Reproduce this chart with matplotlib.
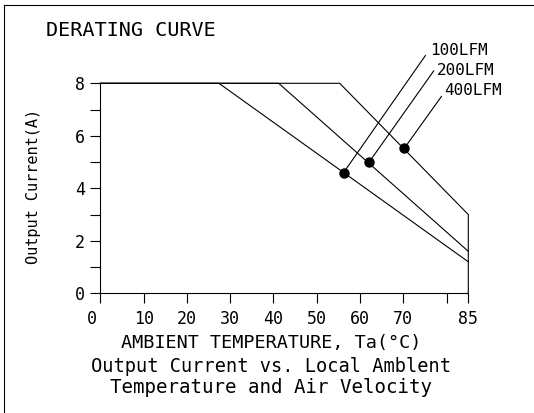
import matplotlib
matplotlib.use('Agg')
import matplotlib.pyplot as plt
from matplotlib.lines import Line2D
from matplotlib.transforms import ScaledTranslation

# Derating curve data (Ta in degC, output current in A)
temp_100 = [0, 27.4, 85]
curr_100 = [8, 8, 1.2]
temp_200 = [0, 41.2, 85]
curr_200 = [8, 8, 1.6]
temp_400 = [0, 55.3, 85, 85]
curr_400 = [8, 8, 3.0, 0]

# Marked points, leader ends and label positions
airflow_labels = ['100LFM', '200LFM', '400LFM']
marker_temp = [56.2, 62.1, 70.2]
marker_curr = [4.6, 5.0, 5.52]
leader_temp = [75.1, 77.0, 78.8]
leader_curr = [9.06, 8.47, 7.50]
label_temp = [76.1, 77.7, 79.5]
label_curr = [9.24, 8.48, 7.71]

x_ticks = [0, 10, 20, 30, 40, 50, 60, 70, 80, 85]
x_tick_labels = ['0', '10', '20', '30', '40', '50', '60', '70', '', '85']
y_ticks = [0, 1, 2, 3, 4, 5, 6, 7, 8]
y_tick_labels = ['0', '', '2', '', '4', '', '6', '', '8']

W, H = 534, 413
FONT = 'DejaVu Sans Mono'
plt.rcParams['font.family'] = FONT


def fx(px):
    return px / W


def fy(py):
    return 1 - py / H


fig = plt.figure(figsize=(W / 100, H / 100), dpi=100)
ax = fig.add_axes([fx(100.3), fy(293.3), fx(468.3) - fx(100.3), fy(83.3) - fy(293.3)])

lw = 0.8
ax.plot(temp_100, curr_100, color='black', lw=lw, clip_on=False)
ax.plot(temp_200, curr_200, color='black', lw=lw, clip_on=False)
ax.plot(temp_400, curr_400, color='black', lw=lw, clip_on=False)
ax.plot(marker_temp, marker_curr, 'o', color='black', ms=6.5, clip_on=False, zorder=5)

# leader lines from the points to the airflow labels
for name, mx, my, lx, ly, tx, ty in zip(airflow_labels, marker_temp, marker_curr,
                                        leader_temp, leader_curr, label_temp, label_curr):
    ax.plot([mx, lx], [my, ly], color='black', lw=lw, clip_on=False)
    ax.text(tx, ty, name, ha='left', va='center', fontsize=11.5, clip_on=False)

ax.set_xlim(0, 85)
ax.set_ylim(0, 8)
for side in ['top', 'right']:
    ax.spines[side].set_visible(False)
for side in ['left', 'bottom']:
    ax.spines[side].set_linewidth(lw)

ax.set_xticks(x_ticks)
ax.set_xticklabels(x_tick_labels, fontsize=12)
ax.set_yticks(y_ticks)
ax.set_yticklabels(y_tick_labels, fontsize=12)
ax.tick_params(axis='both', direction='out', length=7.2, width=lw)
ax.tick_params(axis='x', pad=5)
ax.tick_params(axis='y', pad=4)

# the "0" label on the x axis sits a bit left of its tick
first = ax.get_xticklabels()[0]
first.set_transform(first.get_transform() + ScaledTranslation(-6 / 72, 0, fig.dpi_scale_trans))

fig.text(fx(34), fy(186), 'Output Current(A)', rotation=90, ha='center', va='center', fontsize=11)
fig.text(fx(46), fy(30), 'DERATING CURVE', ha='left', va='center', fontsize=14.5)
fig.text(fx(271), fy(343.3), 'AMBIENT TEMPERATURE, Ta(°C)', ha='center', va='center', fontsize=13.3)
fig.text(fx(271), fy(366), 'Output Current vs. Local Amblent', ha='center', va='center', fontsize=13.4)
fig.text(fx(271), fy(387.7), 'Temperature and Air Velocity', ha='center', va='center', fontsize=13.8)

# page border (top and left edges only)
fig.add_artist(Line2D([fx(4), 1], [fy(5), fy(5)], color='black', lw=lw))
fig.add_artist(Line2D([fx(4), fx(4)], [fy(5), 0], color='black', lw=lw))

fig.savefig('out.png', dpi=100)
